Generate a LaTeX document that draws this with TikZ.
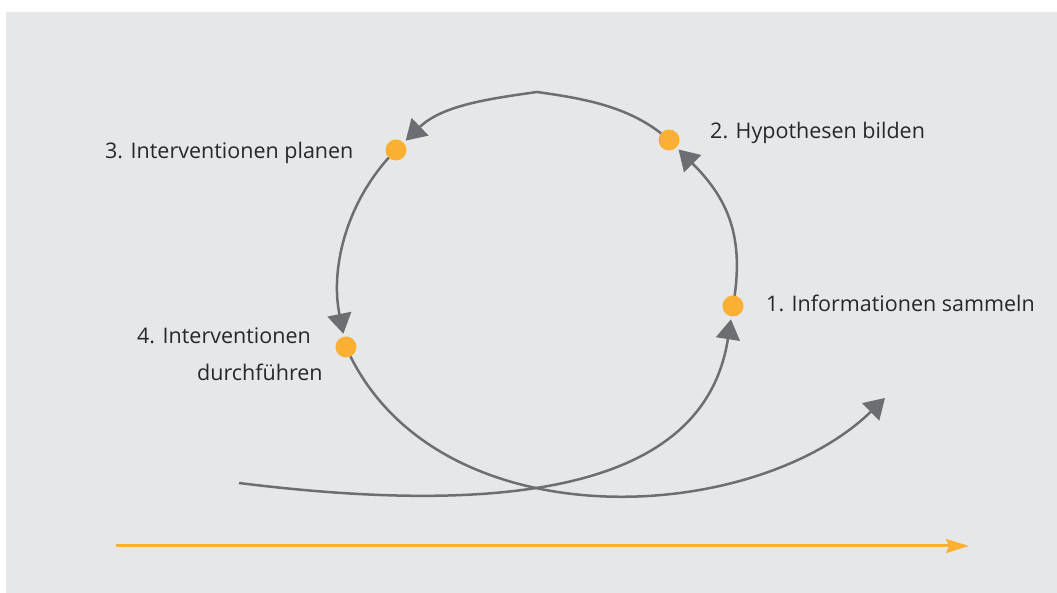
\documentclass[tikz,border=0pt]{standalone}
\usepackage{fontspec}
\setmainfont{Open Sans}
\usetikzlibrary{arrows.meta}
\definecolor{panel}{RGB}{230,231,232}
\definecolor{flow}{RGB}{109,110,113}
\definecolor{accent}{RGB}{251,176,52}
\definecolor{ink}{RGB}{40,40,42}
\pgfdeclarelayer{back}
\pgfsetlayers{back,main}
\begin{document}
\begin{tikzpicture}[x=1pt,y=1pt,
  dot/.style={circle,fill=accent,minimum size=21pt,inner sep=0pt,outer sep=3pt},
  flowline/.style={draw=flow,line width=2.5pt,-{Triangle[length=20pt,width=24pt]}},
  timeline/.style={draw=accent,line width=3pt,-{Stealth[length=23pt,width=14pt,inset=3pt]}},
  lbl/.style={font=\fontsize{21.5}{26}\selectfont,text=ink,inner sep=0pt},
]
\useasboundingbox (0,0) rectangle (1057,593);
\begin{pgfonlayer}{back}
  \fill[panel] (6,0) rectangle (1057,581);
\end{pgfonlayer}

% cycle stations
\node[dot] (d1) at (733,287) {};
\node[dot] (d2) at (669,453) {};
\node[dot] (d3) at (396,443) {};
\node[dot] (d4) at (346,246) {};

% free ends and bends
\coordinate (s) at (239,110);
\coordinate (e) at (885,195);
\coordinate (top) at (537,501);
\coordinate (t0) at (116,47);
\coordinate (t1) at (969,47);

% station captions
\node[lbl,anchor=base west] (l1) at (766,281) {1. Informationen sammeln};
\node[lbl,anchor=base west] (l2) at (710,454) {2. Hypothesen bilden};
\node[lbl,anchor=base west] (l3) at (105,434) {3. Interventionen planen};
\node[lbl,anchor=base west] (l4a) at (137,249) {4. Interventionen};
\node[lbl,anchor=base west] (l4b) at (197,212) {durchführen};

\begin{pgfonlayer}{back}
  \draw[flowline] (s) .. controls (560,70) and (708,125) .. (d1);
  \draw[flowline] (d1.center) to[out=80,in=-45,looseness=1.08] (d2);
  \draw[flowline] (d2.center) to[out=138,in=-8,looseness=0.9] (top)
                              to[out=188,in=44,looseness=0.92] (d3);
  \draw[flowline] (d3.center) to[out=225,in=101.5,looseness=0.92] (d4);
  \draw[flowline] (d4.center) .. controls (433,50) and (752,66) .. (e);
  \draw[timeline] (t0) -- (t1);
\end{pgfonlayer}
\end{tikzpicture}
\end{document}
